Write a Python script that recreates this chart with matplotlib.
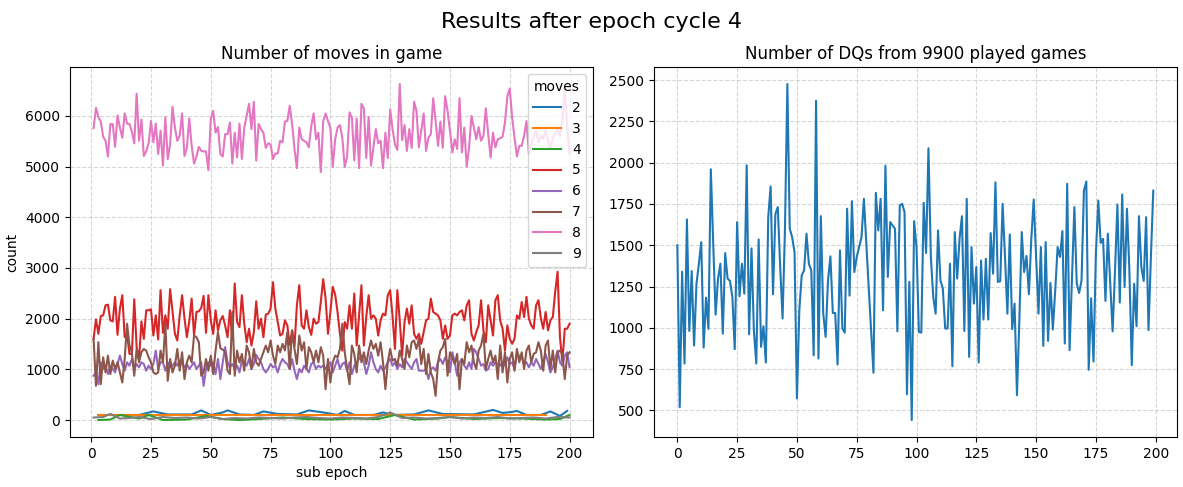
"""
Results after epoch cycle 4: moves per game and DQ counts
"""

import numpy as np
import matplotlib
matplotlib.use("Agg")
import matplotlib.pyplot as plt

# sub epochs 1..200 for the left panel, 0..199 for the right one
sub_epoch = np.arange(1, 201)
dq_epoch = np.arange(0, 200)

moves_8 = [
    5760, 6160, 5980, 5890, 5590, 5510, 5200, 5840, 5840, 5390,
    6010, 5770, 5570, 6050, 5850, 5840, 5690, 5460, 6440, 5510,
    5930, 5210, 5300, 5460, 5900, 5480, 5850, 5250, 5710, 5020,
    5980, 5150, 5440, 6180, 5770, 5510, 5610, 6050, 5210, 5370,
    5950, 5410, 5060, 5200, 5390, 5310, 5300, 5300, 4930, 5950,
    6100, 5670, 5780, 5250, 5200, 5640, 5640, 5870, 5060, 5670,
    5180, 5850, 5150, 5770, 6000, 6240, 5740, 6280, 5120, 5840,
    5740, 5670, 5370, 5460, 5440, 5150, 5260, 5260, 5510, 5480,
    5890, 5900, 6200, 5840, 5350, 4970, 5770, 5540, 5510, 5480,
    5380, 5800, 6050, 5540, 5670, 4890, 5900, 6050, 5900, 5770,
    4990, 5540, 5770, 5820, 5570, 4990, 5200, 6070, 5970, 5120,
    5950, 4970, 6240, 6150, 5170, 5980, 5020, 5380, 5740, 5460,
    5510, 4970, 5670, 5170, 6130, 5740, 5440, 5330, 6630, 5520,
    5820, 5310, 5740, 5370, 6280, 6100, 5380, 5710, 6050, 5310,
    5570, 5640, 6350, 5900, 5410, 5890, 5370, 6390, 6100, 5710,
    5280, 5540, 5350, 6350, 5280, 5770, 5000, 5380, 6000, 5770,
    5540, 5780, 5510, 5610, 6150, 5640, 5180, 5670, 5380, 5540,
    5560, 5590, 5870, 6390, 6540, 5970, 5570, 5200, 5410, 5410,
    5610, 5900, 5250, 5440, 5600, 5710, 5480, 5610, 5550, 5710,
    5500, 5350, 5570, 5650, 5740, 5610, 5900, 6490, 5800, 5250,
]

moves_5 = [
    1602, 1986, 1701, 2052, 2065, 2264, 2277, 1966, 1946, 2430,
    1681, 2198, 2463, 1635, 1701, 1304, 1304, 2383, 1437, 1192,
    1946, 1602, 2165, 2165, 2185, 1668, 2065, 1589, 2562, 1721,
    2065, 1801, 2582, 2132, 1701, 1569, 2065, 2463, 2012, 1635,
    1946, 2396, 1668, 2132, 2145, 2211, 2449, 1721, 2463, 1966,
    1700, 2165, 1768, 1966, 2052, 1867, 1635, 2165, 1602, 2694,
    1933, 1834, 2463, 1900, 1536, 1801, 1470, 1734, 2343, 1801,
    1999, 1635, 2079, 2099, 2198, 2720, 2198, 1933, 1668, 1701,
    1966, 1867, 1483, 1768, 1456, 2264, 2661, 1867, 1801, 2165,
    1834, 1681, 1999, 1900, 1933, 2330, 2780, 2396, 1701, 2132,
    2628, 2476, 2132, 1701, 1370, 1933, 1801, 2264, 1801, 2496,
    1470, 2065, 2661, 1470, 2032, 2463, 1999, 2065, 1999, 1668,
    1966, 2099, 2065, 2463, 2562, 2052, 1403, 2562, 1966, 1271,
    1933, 2198, 1900, 2264, 1701, 1602, 1701, 1503, 1734, 1966,
    1999, 2396, 2132, 2099, 2065, 1966, 1602, 1867, 1602, 1668,
    2065, 2099, 2065, 2132, 2165, 1966, 2264, 2363, 1701, 1569,
    1734, 1867, 2363, 1768, 1536, 2264, 1966, 1668, 2363, 2463,
    1966, 1801, 1370, 1867, 1602, 1503, 1602, 2065, 1999, 2330,
    2032, 2430, 1999, 1867, 1801, 2264, 2363, 2012, 1801, 2132,
    1768, 1966, 2032, 2529, 2926, 1635, 1139, 1801, 1801, 1900,
]

moves_7 = [
    1602, 675, 1536, 708, 1238, 940, 1271, 907, 1172, 1006,
    1139, 940, 741, 1205, 1900, 1470, 1337, 874, 1403, 1139,
    1337, 1403, 1370, 1238, 1139, 940, 907, 940, 1370, 1139,
    1900, 775, 1205, 940, 1072, 1403, 973, 1337, 808, 1139,
    1271, 1139, 1668, 1635, 1536, 874, 940, 1205, 973, 1271,
    907, 1370, 1734, 1417, 1390, 1350, 973, 907, 2132, 874,
    1370, 1139, 1304, 973, 1470, 1337, 1006, 1403, 1139, 1072,
    1205, 1337, 1470, 1337, 1569, 1271, 1106, 1470, 1337, 1503,
    1370, 1734, 1006, 1768, 1403, 1106, 1668, 1370, 1536, 1006,
    1437, 1337, 1139, 1370, 1139, 1437, 1271, 609, 1205, 741,
    1139, 1271, 1238, 1403, 1900, 1337, 1006, 708, 1470, 1304,
    940, 1470, 1139, 1337, 1106, 1370, 1569, 1403, 1503, 1271,
    1536, 1139, 609, 1139, 1403, 1172, 1205, 1072, 1370, 1205,
    1006, 1470, 1238, 1536, 1569, 1403, 1602, 1106, 1403, 907,
    1304, 940, 808, 477, 1139, 1370, 1437, 1602, 874, 1337,
    1238, 1106, 1304, 609, 1205, 1106, 1536, 1337, 1470, 1139,
    1006, 1370, 1470, 1701, 1006, 1205, 1370, 1139, 1271, 808,
    1470, 940, 1337, 741, 1205, 1337, 973, 1403, 1139, 1337,
    1006, 1370, 1470, 1139, 1304, 1337, 1536, 1370, 973, 1470,
    1569, 1006, 1370, 940, 1337, 1370, 1304, 808, 1271, 1337,
]

moves_6 = [
    874, 940, 708, 1139, 1006, 1072, 907, 1072, 1006, 940,
    1106, 1271, 1106, 973, 1139, 1072, 1205, 1006, 1106, 1039,
    1139, 1106, 973, 1072, 1006, 1106, 1370, 1006, 1139, 1139,
    973, 1139, 1039, 1072, 1139, 1072, 1172, 1106, 1039, 1106,
    1006, 1072, 1139, 1006, 1072, 1139, 675, 1006, 1139, 1072,
    1139, 907, 1205, 808, 1139, 1437, 1139, 1039, 1106, 1006,
    1072, 940, 1172, 1139, 1072, 1205, 1006, 1106, 1284, 1205,
    1139, 1006, 940, 1006, 1106, 1039, 1072, 940, 1106, 1205,
    1139, 1106, 1006, 1205, 973, 808, 1006, 940, 1072, 1006,
    940, 1106, 1139, 1006, 1072, 1039, 1072, 1006, 1106, 1139,
    940, 1072, 1205, 1006, 1106, 1139, 973, 1139, 907, 1072,
    1139, 1205, 1271, 1139, 907, 1072, 1337, 1139, 1006, 940,
    1072, 973, 1039, 1139, 1205, 1072, 1139, 1006, 1106, 1039,
    1205, 1139, 1072, 1006, 1139, 1205, 973, 973, 973, 1006,
    808, 1006, 1039, 973, 1139, 1205, 1106, 1238, 1139, 940,
    1337, 1139, 874, 1139, 1205, 1072, 1006, 1139, 1006, 1403,
    1337, 1205, 1072, 1106, 973, 1006, 1139, 1072, 1139, 1106,
    1072, 1139, 1072, 1238, 1106, 1139, 1006, 1304, 1271, 1238,
    1106, 1139, 1039, 1139, 1072, 1205, 1106, 1006, 1139, 1304,
    1139, 940, 1039, 1205, 1370, 1139, 1072, 1271, 1337, 1039,
]

# the rare move counts only show up in some sub epochs
moves_2_x = [3, 20, 26, 32, 42, 46, 50, 55, 57, 62, 68, 72, 78, 86, 91, 97, 103,
             106, 110, 118, 122, 126, 135, 141, 147, 160, 168, 172, 176, 178,
             182, 188, 192, 196, 199]
moves_2 = [100, 100, 170, 110, 110, 190, 100, 150, 190, 110, 100, 170, 120, 110,
           190, 150, 100, 180, 100, 100, 150, 100, 110, 190, 120, 110, 200, 140,
           160, 180, 100, 100, 170, 80, 180]

moves_3_x = [3, 190]
moves_3 = [100, 100]

moves_4_x = [3, 8, 12, 20, 24, 30, 40, 48, 55, 62, 70, 80, 90, 100, 110, 120,
             127, 135, 145, 150, 160, 170, 180, 190, 196, 200]
moves_4 = [0, 10, 100, 30, 100, 0, 10, 80, 20, 0, 20, 50, 20, 10, 30, 20,
           100, 10, 30, 60, 20, 40, 30, 10, 20, 100]

moves_9_x = [1, 5, 8, 12, 16, 20, 25, 30, 35, 40, 45, 50, 55, 60, 65, 70, 75,
             80, 85, 90, 95, 100, 105, 110, 115, 120, 125, 130, 135, 140, 145,
             150, 155, 160, 165, 170, 175, 180, 185, 190, 195, 200]
moves_9 = [50, 60, 120, 30, 40, 60, 20, 60, 40, 50, 30, 60, 20, 40, 30, 50, 40,
           30, 50, 60, 40, 30, 50, 40, 30, 60, 150, 40, 50, 30, 40, 60, 30, 50,
           40, 60, 30, 40, 50, 30, 60, 50]

dq_counts = [
    1500, 520, 1340, 784, 1656, 981, 1344, 893, 1267, 1388,
    1519, 881, 1183, 994, 1960, 1509, 1080, 1298, 1388, 965,
    1453, 1298, 1284, 1187, 871, 1640, 1191, 1388, 1207, 1984,
    961, 1481, 986, 784, 1535, 885, 1010, 790, 1670, 1856,
    1203, 1690, 1731, 1368, 1056, 1600, 2476, 1600, 1549, 1459,
    573, 1106, 1318, 1348, 1570, 1388, 1348, 834, 2375, 814,
    1676, 1086, 945, 1288, 1433, 1090, 1090, 778, 1469, 996,
    971, 1721, 1195, 1767, 1338, 1429, 1489, 1549, 1781, 1509,
    1247, 986, 728, 1817, 1590, 1781, 1106, 1982, 1308, 1640,
    1620, 1600, 979, 1741, 1751, 1700, 598, 1278, 442, 1646,
    1489, 975, 971, 1757, 1453, 2087, 1429, 1187, 1086, 1590,
    1288, 1237, 996, 996, 1388, 768, 1580, 1298, 1539, 1676,
    981, 1781, 824, 1489, 1147, 1368, 790, 1408, 1050, 1418,
    1050, 1574, 1328, 1881, 1278, 1282, 1751, 1429, 1086, 1565,
    992, 1147, 592, 1046, 1580, 1338, 1435, 1203, 1539, 1777,
    1429, 1086, 1489, 891, 1519, 921, 1272, 990, 1227, 1489,
    1429, 1586, 905, 1872, 865, 1308, 1731, 1267, 1211, 1288,
    1831, 1886, 746, 1179, 796, 1450, 1771, 1514, 1539, 1163,
    1570, 1267, 979, 1348, 1747, 1153, 1807, 1247, 1721, 1348,
    774, 1267, 1010, 1676, 1368, 1284, 1670, 986, 1429, 1831,
]

games_played = 9900
epoch_cycle = 4


def plot_results():
    fig, (ax1, ax2) = plt.subplots(1, 2, figsize=(11.83, 4.87), dpi=100)
    fig.subplots_adjust(left=0.059, right=0.995, bottom=0.103, top=0.862,
                        wspace=0.115)
    fig.suptitle(f"Results after epoch cycle {epoch_cycle}", fontsize=16, y=0.975)

    ax1.plot(moves_2_x, moves_2, label="2")
    ax1.plot(moves_3_x, moves_3, label="3")
    ax1.plot(moves_4_x, moves_4, label="4")
    ax1.plot(sub_epoch, moves_5, label="5")
    ax1.plot(sub_epoch, moves_6, label="6")
    ax1.plot(sub_epoch, moves_7, label="7")
    ax1.plot(sub_epoch, moves_8, label="8")
    ax1.plot(moves_9_x, moves_9, label="9")
    ax1.set_title("Number of moves in game")
    ax1.set_xlabel("sub epoch")
    ax1.set_ylabel("count")
    ax1.legend(title="moves", loc="upper right")
    ax1.grid(True, linestyle="--", alpha=0.5)

    ax2.plot(dq_epoch, dq_counts)
    ax2.set_title(f"Number of DQs from {games_played} played games")
    ax2.grid(True, linestyle="--", alpha=0.5)

    fig.savefig("out.png")


if __name__ == "__main__":
    plot_results()
